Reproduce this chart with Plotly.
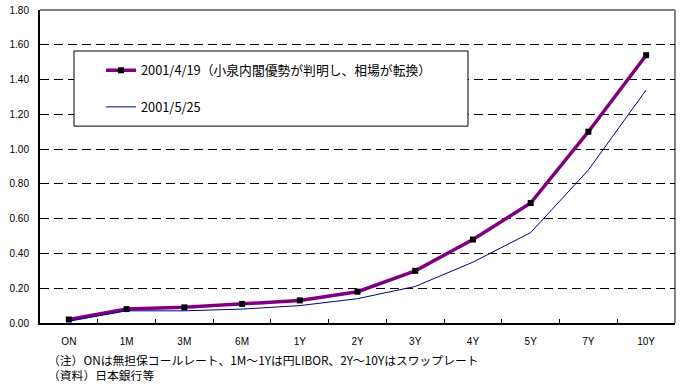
import plotly.graph_objects as go

# Yield curve tenors and rates (%)
tenors = ["ON", "1M", "3M", "6M", "1Y", "2Y", "3Y", "4Y", "5Y", "7Y", "10Y"]
rates_0419 = [0.02, 0.08, 0.09, 0.11, 0.13, 0.18, 0.30, 0.48, 0.69, 1.10, 1.54]
rates_0525 = [0.01, 0.07, 0.07, 0.08, 0.10, 0.14, 0.21, 0.35, 0.52, 0.88, 1.34]
y_ticks = [0.0, 0.2, 0.4, 0.6, 0.8, 1.0, 1.2, 1.4, 1.6, 1.8]

name_0419 = "2001/4/19（小泉内閣優勢が判明し、相場が転換）"
name_0525 = "2001/5/25"
note_lines = [
    "（注）ONは無担保コールレート、1M～1Yは円LIBOR、2Y～10Yはスワップレート",
    "（資料）日本銀行等",
]

JP = "Noto Sans CJK JP"
NUM = "Liberation Sans"

fig = go.Figure()
fig.add_trace(go.Scatter(
    x=tenors, y=rates_0419, name=name_0419, mode="lines+markers",
    line=dict(color="#800080", width=3.5),
    marker=dict(symbol="square", size=6, color="#000000"),
    legendgroup="a",
))
fig.add_trace(go.Scatter(
    x=tenors, y=rates_0525, name=name_0525, mode="lines",
    line=dict(color="#000080", width=1),
    legendgroup="b",
))

# legend frame (white box over the grid)
fig.add_shape(type="rect", xref="paper", yref="paper",
              x0=0.0535, x1=0.674, y0=0.629, y1=0.869,
              line=dict(color="#000000", width=1), fillcolor="#ffffff",
              layer="above")
# grey top and right frame lines
fig.add_shape(type="line", xref="paper", yref="paper", x0=0, x1=1, y0=1, y1=1,
              line=dict(color="#808080", width=2), layer="below")
fig.add_shape(type="line", xref="paper", yref="paper", x0=1, x1=1, y0=0, y1=1,
              line=dict(color="#808080", width=2), layer="below")

# source notes below the axis
fig.add_annotation(text="<br>".join(note_lines), xref="paper", yref="paper",
                   x=0.011, y=-0.196, xanchor="left", yanchor="bottom", align="left",
                   showarrow=False, borderpad=0,
                   font=dict(family=JP, size=11.8, color="#000000"))

fig.update_layout(
    width=680, height=385,
    margin=dict(l=40, r=5, t=10, b=62, autoexpand=False),
    paper_bgcolor="#ffffff", plot_bgcolor="#ffffff",
    showlegend=True,
    legend=dict(
        x=0.096, y=0.855, xanchor="left", yanchor="top",
        bgcolor="rgba(0,0,0,0)", borderwidth=0,
        traceorder="grouped", tracegroupgap=17,
        font=dict(family=JP, size=12.8, color="#000000"),
    ),
    xaxis=dict(
        type="category", categoryorder="array", categoryarray=tenors,
        range=[-0.5, len(tenors) - 0.5],
        showline=True, linecolor="#000000", linewidth=2,
        ticks="inside", ticklen=4, tickcolor="#000000", tickson="boundaries",
        showgrid=False, zeroline=False, tickangle=0,
        tickfont=dict(family=NUM, size=10, color="#000000"),
        ticklabelstandoff=8,
    ),
    yaxis=dict(
        range=[0, 1.8], tickvals=y_ticks, tickformat=".2f",
        showline=True, linecolor="#000000", linewidth=2,
        ticks="", showgrid=True, gridcolor="#000000", gridwidth=1,
        griddash="9px,5px", zeroline=False,
        tickfont=dict(family=NUM, size=10, color="#000000"),
        ticklabelstandoff=7,
    ),
)

fig.write_html("out.html")
